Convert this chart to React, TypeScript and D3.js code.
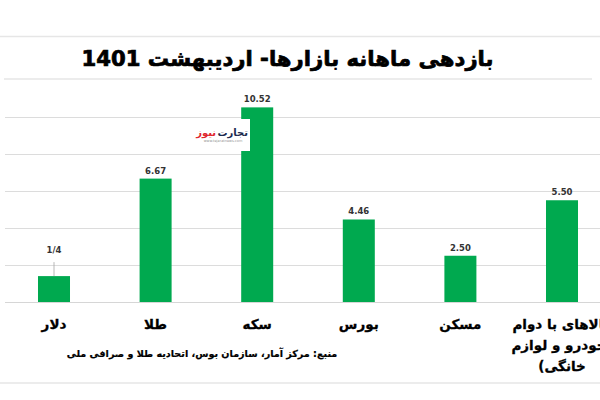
import React from 'react';
import * as d3 from 'd3';

const categories = ['دلار', 'طلا', 'سکه', 'بورس', 'مسکن', 'کالاهای با دوام (خودرو و لوازم خانگی)'];
const categoryLines = [['دلار'], ['طلا'], ['سکه'], ['بورس'], ['مسکن'], ['کالاهای با دوام', '(خودرو و لوازم', 'خانگی)']];
const values = [1.4, 6.67, 10.52, 4.46, 2.5, 5.5];
const valueLabels = ['1/4', '6.67', '10.52', '4.46', '2.50', '5.50'];
const leaderLabel = [true, false, false, false, false, false];
const gridTicks = [2, 4, 6, 8, 10];
const title = 'بازدهی ماهانه بازارها- اردیبهشت 1401';
const source = 'منبع: مرکز آمار، سازمان بوس، اتحادیه طلا و صرافی ملی';
const logoParts = ['تجارت', 'نیوز'];

const W = 600;
const H = 400;
const FONT = '"DejaVu Sans", sans-serif';
const GREEN = '#00a94f';

export default function App() {
  const x = d3.scaleBand<string>().domain(categories).range([3.2, 612.8]).paddingInner(0.685).paddingOuter(0.3425);
  const y = d3.scaleLinear().domain([0, 12]).range([302, 80]);
  const bw = x.bandwidth();

  return (
    <svg width={W} height={H} style={{ position: 'absolute', left: 0, top: 0, background: '#fff' }}>
      <rect x={0} y={0} width={W} height={H} fill="#fff" />
      {/* title rules */}
      <line x1={0} x2={W} y1={36.5} y2={36.5} stroke="#e6e6e6" strokeWidth={1.5} />
      <line x1={4} x2={592} y1={79} y2={79} stroke="#e6e6e6" strokeWidth={1.5} />
      <text x={287.5} y={66} textAnchor="middle" direction="rtl" fontFamily={FONT} fontWeight="bold" fontSize={21.2} fill="#000" stroke="#000" strokeWidth={0.7}>
        {title}
      </text>

      {/* grid */}
      {gridTicks.map((t) => (
        <line key={t} x1={5} x2={W} y1={Math.round(y(t)) + 0.5} y2={Math.round(y(t)) + 0.5} stroke="#dcdcdc" strokeWidth={1} />
      ))}
      <line x1={5} x2={W} y1={y(0) + 0.5} y2={y(0) + 0.5} stroke="#d6d6d6" strokeWidth={1} />

      {/* bars */}
      {categories.map((c, i) => (
        <rect key={c} x={x(c)} y={y(values[i])} width={bw} height={y(0) - y(values[i])} fill={GREEN} />
      ))}

      {/* value labels */}
      {categories.map((c, i) => {
        const cx = (x(c) as number) + bw / 2;
        const top = y(values[i]);
        if (leaderLabel[i]) {
          return (
            <g key={c}>
              <line x1={cx} x2={cx} y1={top - 14} y2={top} stroke="#a6a6a6" strokeWidth={0.8} />
              <text x={cx} y={top - 23} textAnchor="middle" fontFamily={FONT} fontWeight="bold" fontSize={8.5} fill="#333">
                {valueLabels[i]}
              </text>
            </g>
          );
        }
        return (
          <text key={c} x={cx} y={top - 5} textAnchor="middle" fontFamily={FONT} fontWeight="bold" fontSize={8.5} fill="#333">
            {valueLabels[i]}
          </text>
        );
      })}

      {/* watermark */}
      <rect x={186} y={119} width={64} height={32} fill="#fff" />
      <text x={248} y={136} textAnchor="end" direction="ltr" fontFamily={FONT} fontWeight="bold" fontSize={10} fill="#1c2b4f">
        {logoParts[0]}
      </text>
      <text x={216} y={136} textAnchor="end" direction="ltr" fontFamily={FONT} fontWeight="bold" fontSize={10} fill="#e0262f">
        {logoParts[1]}
      </text>
      <text x={223} y={142} textAnchor="middle" fontFamily={FONT} fontSize={3.5} fill="#999">
        www.tejaratnews.com
      </text>

      {/* category labels */}
      {categories.map((c, i) => {
        const cx = (x(c) as number) + bw / 2;
        return (
          <text key={c} textAnchor="middle" direction="rtl" fontFamily={FONT} fontWeight="bold" fontSize={13.5} fill="#000" stroke="#000" strokeWidth={0.3}>
            {categoryLines[i].map((ln, j) => (
              <tspan key={j} x={cx} y={329 + j * 21}>
                {ln}
              </tspan>
            ))}
          </text>
        );
      })}

      {/* source */}
      <text x={202} y={357} textAnchor="middle" direction="rtl" fontFamily={FONT} fontWeight="bold" fontSize={9.6} fill="#000" stroke="#000" strokeWidth={0.2}>
        {source}
      </text>

      <line x1={0} x2={W} y1={383} y2={383} stroke="#e6e6e6" strokeWidth={1.5} />
    </svg>
  );
}
